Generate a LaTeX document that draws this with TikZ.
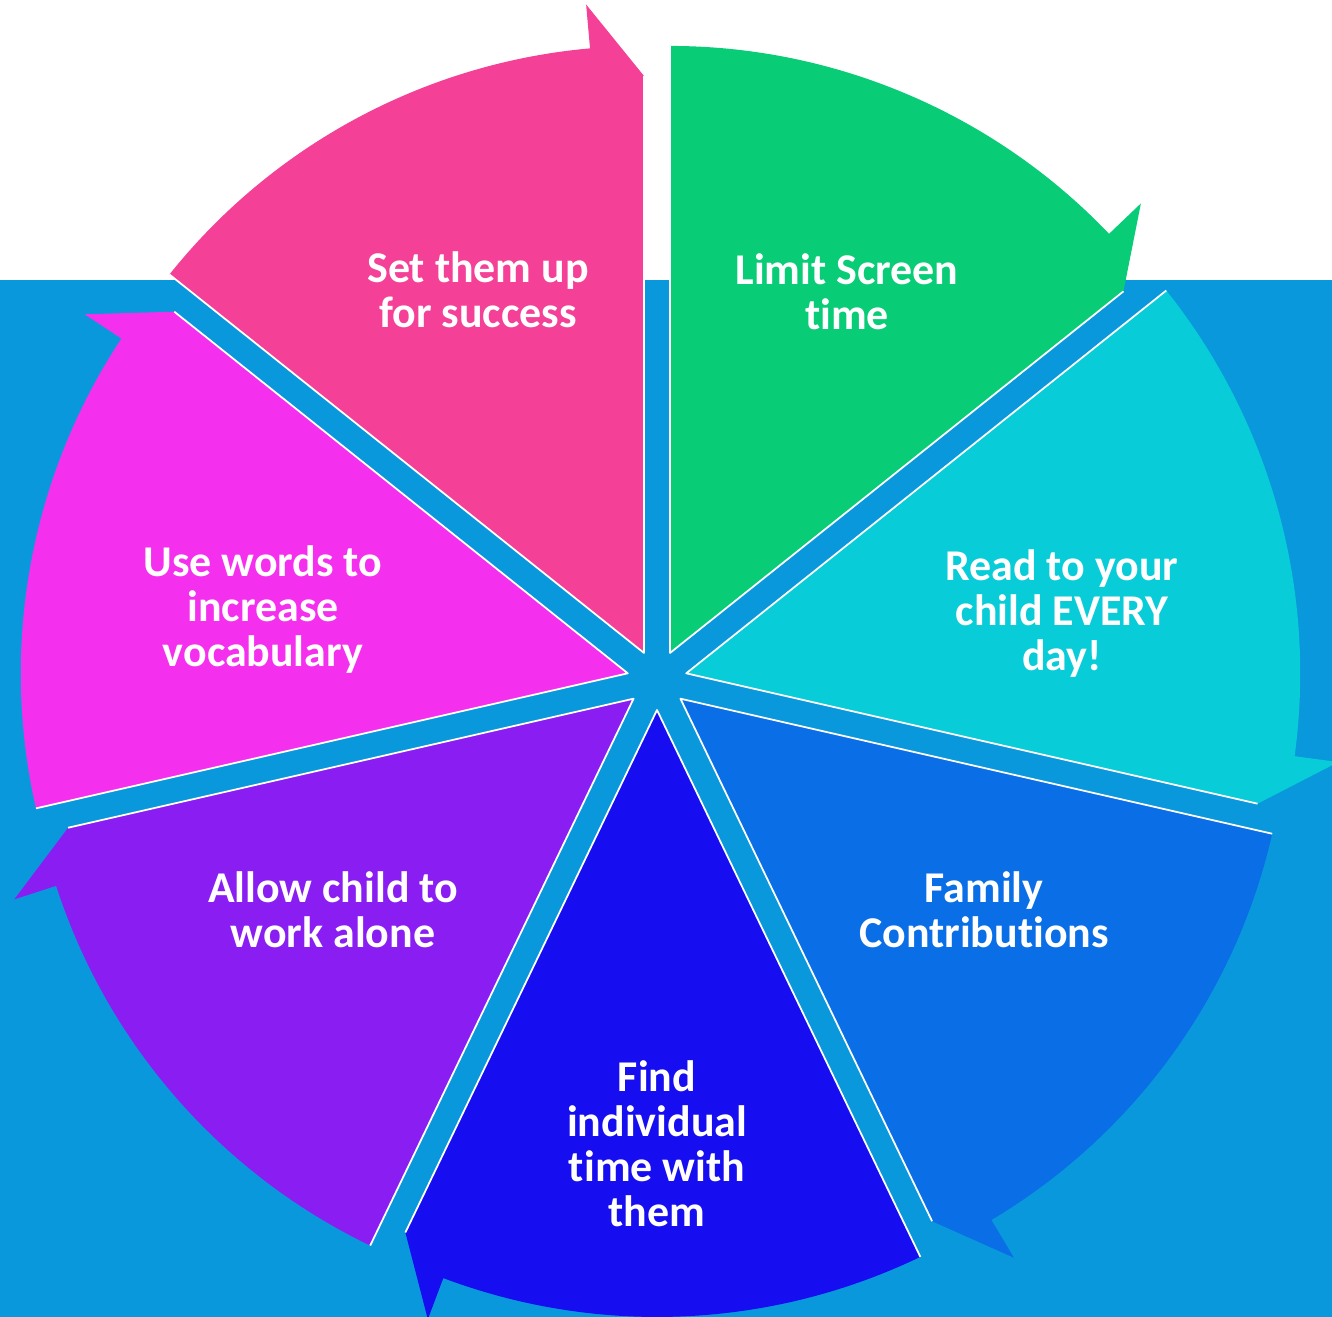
\documentclass[tikz,border=0pt]{standalone}
\usepackage{fontspec}
\setmainfont{Carlito}[Ligatures=NoCommon]
\usepackage{xcolor}
\usepackage{tikz}
\usetikzlibrary{calc}

\definecolor{bgblue}{HTML}{0A98DC}
\definecolor{sgreen}{HTML}{08CC76}
\definecolor{scyan}{HTML}{08CCD8}
\definecolor{sblue}{HTML}{0A6EE6}
\definecolor{sdeep}{HTML}{160EF0}
\definecolor{spurple}{HTML}{8A1EF2}
\definecolor{smagenta}{HTML}{F430EE}
\definecolor{spink}{HTML}{F44096}

\begin{document}
\begin{tikzpicture}[
    x=0.02cm, y=0.02cm,
    sectorlabel/.style={font=\fontsize{25}{25.6}\selectfont\bfseries, text=white, align=center},
    edgeline/.style={draw=white, line width=1pt, line join=round}
]

    % --- Canvas ---
    \useasboundingbox (0,0) rectangle (1332,1317);
    \clip (0,0) rectangle (1332,1317);
    \fill[white] (0,0) rectangle (1332,1317);
    \fill[bgblue] (0,0) rectangle (1332,1037);

    \coordinate (c) at (657,637);

    % --- Sectors ---
    % Limit Screen time
    \coordinate (a_green) at ($(c)+(64.286:30)$);
    \fill[sgreen] (a_green) -- ++(90:607) arc[start angle=90, end angle=43.671, radius=607]
        -- ++(43.671:44) -- ($(a_green)+(38.571:580)$) -- cycle;
    \draw[edgeline] ($(a_green)+(90:607)$) -- (a_green) -- ($(a_green)+(38.571:580)$);

    % Read to your child
    \coordinate (a_cyan) at ($(c)+(12.857:30)$);
    \fill[scyan] (a_cyan) -- ++(38.571:614) arc[start angle=38.571, end angle=-7.757, radius=614]
        -- ++(-7.757:44) -- ($(a_cyan)+(-12.857:586)$) -- cycle;
    \draw[edgeline] ($(a_cyan)+(38.571:614)$) -- (a_cyan) -- ($(a_cyan)+(-12.857:586)$);

    % Family Contributions
    \coordinate (a_blue) at ($(c)+(-38.571:30)$);
    \fill[sblue] (a_blue) -- ++(-12.857:607) arc[start angle=-12.857, end angle=-59.186, radius=607]
        -- ++(-59.186:44) -- ($(a_blue)+(-64.286:580)$) -- cycle;
    \draw[edgeline] ($(a_blue)+(-12.857:607)$) -- (a_blue) -- ($(a_blue)+(-64.286:580)$);

    % Find individual time
    \coordinate (a_deep) at ($(c)+(-90:30)$);
    \fill[sdeep] (a_deep) -- ++(-64.286:607) arc[start angle=-64.286, end angle=-110.614, radius=607]
        -- ++(-110.614:44) -- ($(a_deep)+(-115.714:580)$) -- cycle;
    \draw[edgeline] ($(a_deep)+(-64.286:607)$) -- (a_deep) -- ($(a_deep)+(-115.714:580)$);

    % Allow child to work alone
    \coordinate (a_purple) at ($(c)+(-141.429:30)$);
    \fill[spurple] (a_purple) -- ++(-115.714:607) arc[start angle=-115.714, end angle=-162.043, radius=607]
        -- ++(-162.043:44) -- ($(a_purple)+(-167.143:580)$) -- cycle;
    \draw[edgeline] ($(a_purple)+(-115.714:607)$) -- (a_purple) -- ($(a_purple)+(-167.143:580)$);

    % Use words
    \coordinate (a_magenta) at ($(c)+(167.143:30)$);
    \fill[smagenta] (a_magenta) -- ++(192.857:607) arc[start angle=192.857, end angle=146.529, radius=607]
        -- ++(146.529:44) -- ($(a_magenta)+(141.429:580)$) -- cycle;
    \draw[edgeline] ($(a_magenta)+(192.857:607)$) -- (a_magenta) -- ($(a_magenta)+(141.429:580)$);

    % Set them up
    \coordinate (a_pink) at ($(c)+(115.714:30)$);
    \fill[spink] (a_pink) -- ++(141.429:607) arc[start angle=141.429, end angle=95.1, radius=607]
        -- ++(95.1:44) -- ($(a_pink)+(90:577)$) -- cycle;
    \draw[edgeline] ($(a_pink)+(141.429:607)$) -- (a_pink) -- ($(a_pink)+(90:577)$);

    % --- Labels ---
    \node[sectorlabel] (l_green) at (847,1025) {Limit Screen\\time};
    \node[sectorlabel] (l_cyan) at (1062,703) {Read to your\\child EVERY\\day!};
    \node[sectorlabel] (l_blue) at (984,407) {Family\\Contributions};
    \node[sectorlabel] (l_deep) at (657,173) {Find\\individual\\time with\\them};
    \node[sectorlabel] (l_purple) at (333,407) {Allow child to\\work alone};
    \node[sectorlabel] (l_magenta) at (263,707) {Use words to\\increase\\vocabulary};
    \node[sectorlabel] (l_pink) at (478,1027) {Set them up\\for success};

\end{tikzpicture}
\end{document}
